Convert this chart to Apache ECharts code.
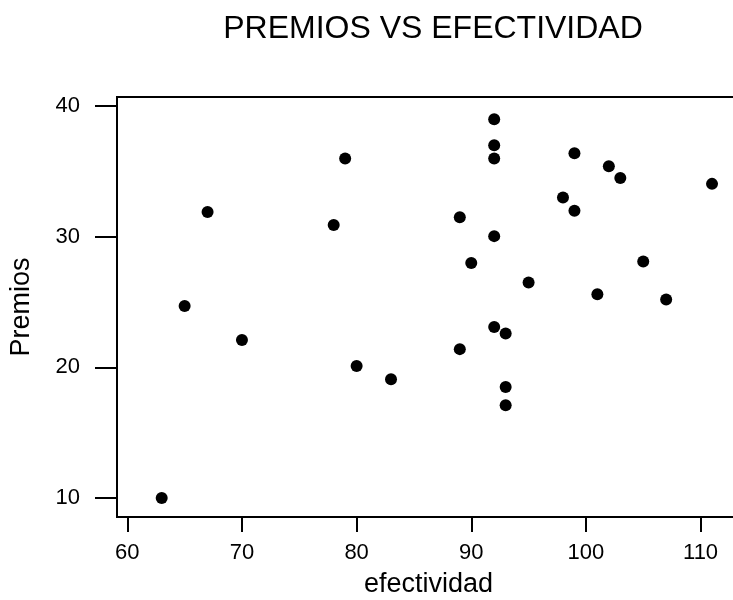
<!DOCTYPE html>
<html>
<head>
<meta charset="utf-8">
<script src="https://cdn.jsdelivr.net/npm/echarts@6/dist/echarts.min.js"></script>
<style>
  html, body { margin: 0; padding: 0; background: #fff; }
  #chart { width: 733px; height: 600px; }
</style>
</head>
<body>
<div id="chart"></div>
<script>
// datos
const efectividad = [63, 65, 67, 70, 78, 79, 80, 83, 89, 89, 90, 92, 92, 92, 92, 92, 93, 93, 93, 95, 98, 99, 99, 101, 102, 103, 105, 107, 111];
const premios = [10, 24.7, 31.9, 22.1, 30.9, 36.0, 20.1, 19.1, 31.5, 21.4, 28.0, 39.0, 37.0, 36.0, 30.05, 23.1, 22.6, 18.5, 17.1, 26.5, 33.0, 36.4, 32.0, 25.6, 35.4, 34.5, 28.1, 25.2, 34.05];
const xTicks = [60, 70, 80, 90, 100, 110];
const yTicks = [10, 20, 30, 40];

const font = 'Liberation Sans, Arial, sans-serif';

let myChart = echarts.init(document.getElementById('chart'));
myChart.setOption({
    animation: false,
    title: {
        text: 'PREMIOS VS EFECTIVIDAD',
        left: 428,
        top: 8,
        textAlign: 'center',
        textStyle: { fontFamily: font, fontSize: 32, fontWeight: 'normal', color: '#000' }
    },
    grid: {
        left: 117,
        top: 97,
        right: -7,
        bottom: 83,
        outerBoundsMode: 'none',
        containLabel: false,
        show: true,
        borderColor: '#000',
        borderWidth: 2,
        backgroundColor: '#fff'
    },
    xAxis: {
        type: 'value',
        min: 59.1,
        max: 113.44,
        name: 'efectividad',
        nameLocation: 'middle',
        nameGap: 54,
        nameTextStyle: { fontFamily: font, fontSize: 27, color: '#000' },
        splitLine: { show: false },
        axisLine: { show: true, lineStyle: { color: '#000', width: 2 } },
        axisTick: { show: true, length: 15, customValues: xTicks, lineStyle: { color: '#000', width: 2 } },
        axisLabel: { customValues: xTicks, margin: 25, fontFamily: font, fontSize: 22, color: '#000' }
    },
    yAxis: {
        type: 'value',
        min: 8.55,
        max: 40.7,
        name: 'Premios',
        nameLocation: 'middle',
        nameGap: 82,
        nameTextStyle: { fontFamily: font, fontSize: 27, color: '#000' },
        splitLine: { show: false },
        axisLine: { show: true, lineStyle: { color: '#000', width: 2 } },
        axisTick: { show: true, length: 22, customValues: yTicks, lineStyle: { color: '#000', width: 2 } },
        axisLabel: { customValues: yTicks, margin: 37, fontFamily: font, fontSize: 22, color: '#000' }
    },
    series: [
        {
            type: 'scatter',
            symbol: 'circle',
            symbolSize: 12,
            itemStyle: { color: '#000', opacity: 1 },
            data: efectividad.map((x, i) => [x, premios[i]])
        }
    ]
});
</script>
</body>
</html>
